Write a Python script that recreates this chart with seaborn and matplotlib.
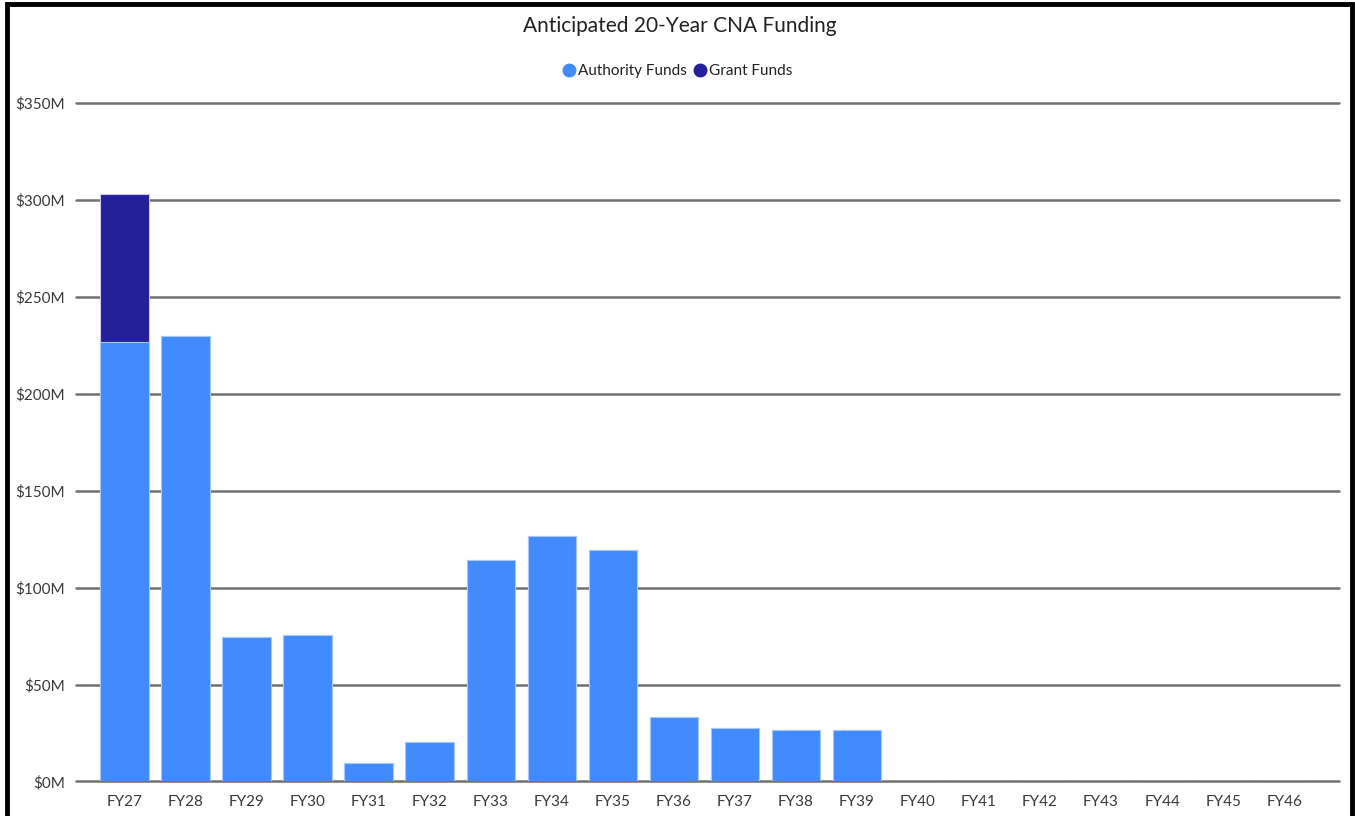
import matplotlib
matplotlib.use("Agg")
import matplotlib.pyplot as plt
from matplotlib.lines import Line2D
from matplotlib.patches import Rectangle
from matplotlib.ticker import FuncFormatter, MultipleLocator
import pandas as pd
import seaborn as sns

# Funding by fiscal year, in millions of dollars
years = [f"FY{y}" for y in range(27, 47)]
authority_funds = [226.6, 230.0, 74.4, 75.8, 9.7, 20.4, 114.3, 126.8, 119.6,
                   33.1, 27.8, 26.4, 26.4, 0, 0, 0, 0, 0, 0, 0]
grant_funds = [76.2, 0, 0, 0, 0, 0, 0, 0, 0, 0, 0, 0, 0, 0, 0, 0, 0, 0, 0, 0]

AUTH_COLOR = "#418BFF"
GRANT_COLOR = "#23209A"
TEXT_COLOR = "#3a3a3a"

sns.set_theme(style="white")
plt.rcParams["font.family"] = ["Lato", "DejaVu Sans"]

df = pd.DataFrame({"year": years, "authority": authority_funds, "grant": grant_funds})
df["total"] = df["authority"] + df["grant"]

fig = plt.figure(figsize=(13.55, 8.16), dpi=100)
ax = fig.add_axes([0.0561, 0.0423, 0.9321, 0.8315])

# Stacked bars: full stack in grant colour, authority share drawn over it
sns.barplot(data=df, x="year", y="total", color=GRANT_COLOR, saturation=1,
            width=0.8, ax=ax, linewidth=0.8, edgecolor="#c8c8f0", zorder=3)
sns.barplot(data=df, x="year", y="authority", color=AUTH_COLOR, saturation=1,
            width=0.8, ax=ax, linewidth=0.8, edgecolor="#a8c8ff", zorder=4)

ax.set_ylim(0, 350)
ax.set_xlim(-0.8, len(years) - 0.1)
ax.yaxis.set_major_locator(MultipleLocator(50))
ax.yaxis.set_major_formatter(FuncFormatter(lambda v, _: f"${v:.0f}M"))
ax.grid(axis="y", color="#707070", linewidth=1.8, zorder=1)
for gl in ax.get_ygridlines():
    gl.set_clip_on(False)
ax.set_axisbelow(True)
for s in ax.spines.values():
    s.set_visible(False)
ax.set_xlabel("")
ax.set_ylabel("")
ax.tick_params(axis="both", length=0, labelsize=11, labelcolor=TEXT_COLOR)
ax.tick_params(axis="y", pad=8)
ax.tick_params(axis="x", pad=10)

fig.text(0.502, 0.968, "Anticipated 20-Year CNA Funding", ha="center", va="center",
         fontsize=15, color="#222222")

handles = [
    Line2D([], [], marker="o", linestyle="", markersize=9, color=AUTH_COLOR, label="Authority Funds"),
    Line2D([], [], marker="o", linestyle="", markersize=9, color=GRANT_COLOR, label="Grant Funds"),
]
fig.legend(handles=handles, loc="center", bbox_to_anchor=(0.5, 0.913), ncol=2,
           frameon=False, fontsize=11, handlelength=0.8, handletextpad=0.15,
           columnspacing=0.5, labelcolor="#222222")

# Black frame around the figure
frame = Rectangle((0.0052, -0.05), 0.9926, 1.0449, transform=fig.transFigure,
                  fill=False, edgecolor="black", linewidth=3.5, clip_on=False)
fig.patches.append(frame)

fig.savefig("out.png", dpi=100)
